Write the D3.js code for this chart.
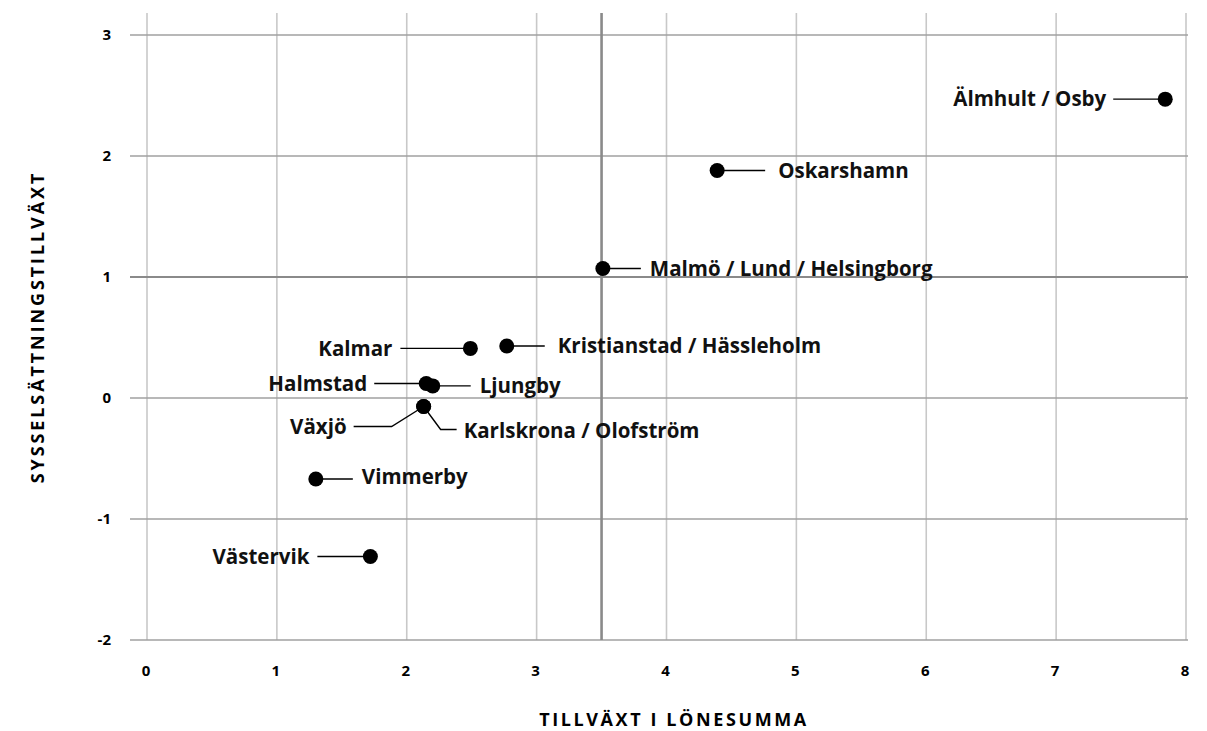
<!DOCTYPE html>
<html>
<head>
<meta charset="utf-8">
<script src="https://cdn.jsdelivr.net/npm/d3@7"></script>
<style>
  body { margin: 0; background: #fff; }
  svg { font-family: 'Open Sans', 'Noto Sans', sans-serif; font-weight: 700; }
</style>
</head>
<body>
<svg id="chart" width="1207" height="731"></svg>
<script>
const names = ['Älmhult / Osby', 'Oskarshamn', 'Malmö / Lund / Helsingborg', 'Kristianstad / Hässleholm',
  'Kalmar', 'Halmstad', 'Ljungby', 'Växjö', 'Karlskrona / Olofström', 'Vimmerby', 'Västervik'];
const lonesumma = [7.84, 4.39, 3.51, 2.77, 2.49, 2.15, 2.20, 2.13, 2.13, 1.30, 1.72];
const syssel = [2.47, 1.88, 1.07, 0.43, 0.41, 0.12, 0.10, -0.07, -0.07, -0.67, -1.31];
const xTicks = [0, 1, 2, 3, 4, 5, 6, 7, 8];
const yTicks = [-2, -1, 0, 1, 2, 3];
const refX = 3.5, refY = 1;

// label placement: side, leader path (relative to point, px), text offset
const labelLayout = [
  { side: 'left', path: [[0, 0], [-52, 0]], tx: -59, ty: 0 },
  { side: 'right', path: [[0, 0], [48, 0]], tx: 61, ty: 0 },
  { side: 'right', path: [[0, 0], [38, 0]], tx: 47, ty: 0 },
  { side: 'right', path: [[0, 0], [38, 0]], tx: 51, ty: 0 },
  { side: 'left', path: [[0, 0], [-70, 0]], tx: -78, ty: 0 },
  { side: 'left', path: [[0, 0], [-52, 0]], tx: -59, ty: 0 },
  { side: 'right', path: [[0, 0], [38, 0]], tx: 47, ty: 0 },
  { side: 'left', path: [[0, 0], [-32, 20], [-70, 20]], tx: -77, ty: 20 },
  { side: 'right', path: [[0, 0], [17, 23], [33, 23]], tx: 40, ty: 24 },
  { side: 'right', path: [[0, 0], [37, 0]], tx: 46, ty: -2 },
  { side: 'left', path: [[0, 0], [-53, 0]], tx: -61, ty: 0 }
];

const data = names.map((n, i) => ({ name: n, x: lonesumma[i], y: syssel[i], layout: labelLayout[i] }));

const svg = d3.select('#chart');
const margin = { left: 147, right: 21, top: 35, bottom: 91 };
const width = 1207, height = 731;

const xScale = d3.scaleLinear().domain([0, 8]).range([margin.left, width - margin.right]);
const yScale = d3.scaleLinear().domain([-2, 3]).range([height - margin.bottom, margin.top]);

// vertical grid
svg.append('g')
  .selectAll('line')
  .data(xTicks)
  .join('line')
  .attr('x1', d => xScale(d)).attr('x2', d => xScale(d))
  .attr('y1', margin.top - 22).attr('y2', yScale(-2))
  .attr('stroke', '#c8c8c8').attr('stroke-width', 1.6);

// horizontal grid
svg.append('g')
  .selectAll('line')
  .data(yTicks)
  .join('line')
  .attr('x1', margin.left - 17).attr('x2', xScale(8) + 2)
  .attr('y1', d => yScale(d)).attr('y2', d => yScale(d))
  .attr('stroke', '#a0a0a0').attr('stroke-width', 1.3);

// reference lines
svg.append('line')
  .attr('x1', xScale(refX)).attr('x2', xScale(refX))
  .attr('y1', margin.top - 22).attr('y2', yScale(-2))
  .attr('stroke', '#8a8a8a').attr('stroke-width', 2.6);
svg.append('line')
  .attr('x1', margin.left - 17).attr('x2', xScale(8) + 2)
  .attr('y1', yScale(refY)).attr('y2', yScale(refY))
  .attr('stroke', '#8a8a8a').attr('stroke-width', 2.2);

// tick labels
svg.append('g')
  .selectAll('text')
  .data(yTicks)
  .join('text')
  .attr('x', 111).attr('y', d => yScale(d))
  .attr('dy', '0.35em')
  .attr('text-anchor', 'end')
  .attr('font-size', 15)
  .text(d => d);

svg.append('g')
  .selectAll('text')
  .data(xTicks)
  .join('text')
  .attr('x', d => xScale(d) - 1).attr('y', 671)
  .attr('dy', '0.35em')
  .attr('text-anchor', 'middle')
  .attr('font-size', 15)
  .text(d => d);

// axis titles
svg.append('text')
  .attr('x', 674).attr('y', 720)
  .attr('dy', '0.35em')
  .attr('text-anchor', 'middle')
  .attr('font-size', 18)
  .attr('letter-spacing', 2.6)
  .text('TILLVÄXT I LÖNESUMMA');

svg.append('text')
  .attr('transform', 'translate(38,327) rotate(-90)')
  .attr('dy', '0.35em')
  .attr('text-anchor', 'middle')
  .attr('font-size', 18)
  .attr('letter-spacing', 2.9)
  .text('SYSSELSÄTTNINGSTILLVÄXT');

// leader lines
const line = d3.line();
svg.append('g')
  .selectAll('path')
  .data(data)
  .join('path')
  .attr('d', d => line(d.layout.path.map(p => [xScale(d.x) + p[0], yScale(d.y) + p[1]])))
  .attr('fill', 'none')
  .attr('stroke', '#000')
  .attr('stroke-width', 1.4);

// points
svg.append('g')
  .selectAll('circle')
  .data(data)
  .join('circle')
  .attr('cx', d => xScale(d.x))
  .attr('cy', d => yScale(d.y))
  .attr('r', 7.5)
  .attr('fill', '#000');

// labels
svg.append('g')
  .selectAll('text')
  .data(data)
  .join('text')
  .attr('x', d => xScale(d.x) + d.layout.tx)
  .attr('y', d => yScale(d.y) + d.layout.ty)
  .attr('dy', '0.35em')
  .attr('text-anchor', d => d.layout.side === 'left' ? 'end' : 'start')
  .attr('font-size', 20.5)
  .attr('fill', '#111')
  .text(d => d.name);
</script>
</body>
</html>
